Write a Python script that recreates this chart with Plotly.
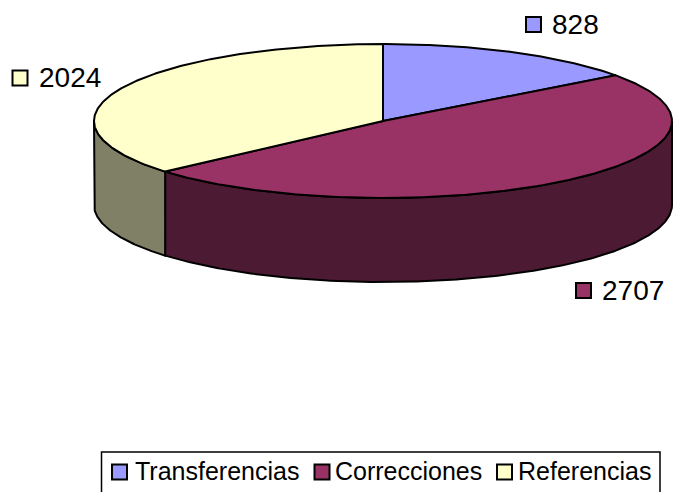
import numpy as np
import plotly.graph_objects as go

categories = ["Transferencias", "Correcciones", "Referencias"]
values = [828, 2707, 2024]
top_colors = ["#9999FF", "#993366", "#FFFFCC"]
side_colors = ["#4D4D80", "#4D1A33", "#808066"]
label_marker_x = [533.5, 583.5, 20]
label_marker_y = [24.5, 290.5, 78]
label_text_x = [552, 602, 39]
legend_marker_x = [119.5, 322, 504.5]
legend_text_x = [135, 335, 518]
LEGEND_Y = 472

W, H = 674, 492
CX, CY, RX, RY, DEPTH = 383, 121, 289, 77, 84
FONT = "Liberation Sans, Arial, sans-serif"


def rim(a0, a1, drop=0.0):
    t = np.radians(np.linspace(a0, a1, max(int(abs(a1 - a0)) * 2, 2)))
    return CX + RX * np.sin(t), CY - RY * np.cos(t) + drop


fractions = np.array(values) / sum(values) * 360
ends = np.cumsum(fractions)
starts = ends - fractions

fig = go.Figure()

# front walls of the disc
for a0, a1, col in zip(starts, ends, side_colors):
    lo, hi = max(a0, 90), min(a1, 270)
    if lo >= hi:
        continue
    x1, y1 = rim(lo, hi)
    x2, y2 = rim(hi, lo, DEPTH)
    fig.add_trace(go.Scatter(
        x=np.r_[x1, x2, x1[0]], y=np.r_[y1, y2, y1[0]], mode="lines",
        fill="toself", fillcolor=col, line=dict(color="black", width=2),
        showlegend=False, hoverinfo="skip"))

# top faces
for a0, a1, col in zip(starts, ends, top_colors):
    x, y = rim(a0, a1)
    fig.add_trace(go.Scatter(
        x=np.r_[CX, x, CX], y=np.r_[CY, y, CY], mode="lines",
        fill="toself", fillcolor=col, line=dict(color="black", width=2),
        showlegend=False, hoverinfo="skip"))


def key(x, y, col, text, tx, size, ty):
    fig.add_trace(go.Scatter(
        x=[x], y=[y], mode="markers",
        marker=dict(symbol="square", size=15, color=col,
                    line=dict(color="black", width=2)),
        showlegend=False, hoverinfo="skip"))
    fig.add_trace(go.Scatter(
        x=[tx], y=[ty], mode="text", text=[text], textposition="middle right",
        textfont=dict(family=FONT, size=size, color="black"),
        showlegend=False, hoverinfo="skip"))


# data labels
for val, col, mx, my, tx in zip(values, top_colors, label_marker_x, label_marker_y, label_text_x):
    key(mx, my, col, str(val), tx, 28, my + 2)

# legend, whose frame runs off the bottom of the page as in the reference
for name, col, mx, tx in zip(categories, top_colors, legend_marker_x, legend_text_x):
    key(mx, LEGEND_Y, col, name, tx, 25, LEGEND_Y + 2)

fig.update_layout(
    width=W, height=H, autosize=False,
    margin=dict(l=0, r=0, t=0, b=0, autoexpand=False),
    paper_bgcolor="white", plot_bgcolor="white",
    showlegend=False,
    xaxis=dict(range=[0, W], visible=False, fixedrange=True),
    yaxis=dict(range=[H, 0], visible=False, fixedrange=True),
    shapes=[dict(type="rect", xref="x", yref="y", x0=101.5, x1=660, y0=452, y1=H + 10,
                 line=dict(color="black", width=1.5), fillcolor="rgba(0,0,0,0)", layer="below")],
)

fig.write_html("out.html", config=dict(displayModeBar=False),
               post_script="document.body.style.margin='0';document.body.style.overflow='hidden';")
